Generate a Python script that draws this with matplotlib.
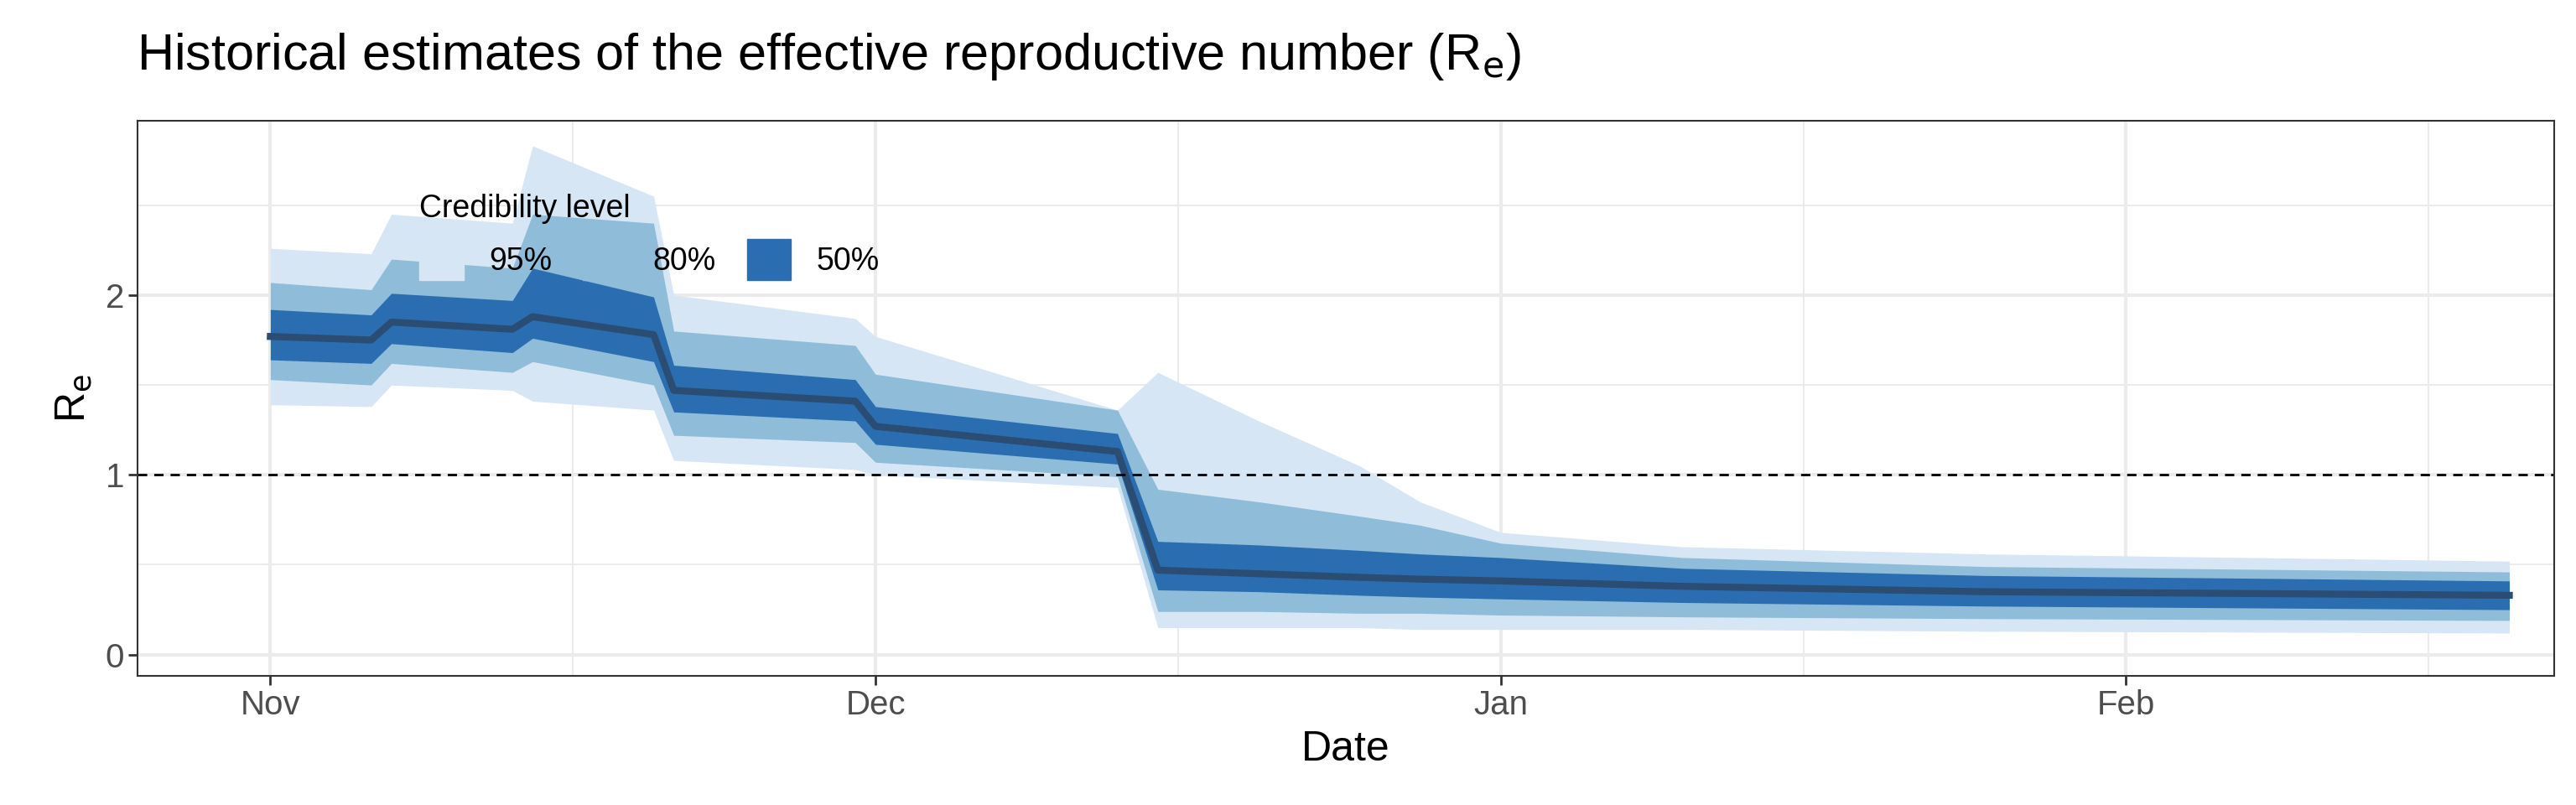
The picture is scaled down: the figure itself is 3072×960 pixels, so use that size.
import matplotlib
matplotlib.use("Agg")
import matplotlib.pyplot as plt
import matplotlib.dates as mdates
from matplotlib.patches import Patch
import datetime as dt

plt.rcParams['font.family'] = ['Liberation Sans', 'DejaVu Sans']

dates = ["2020-11-01","2020-11-06","2020-11-07","2020-11-13","2020-11-14","2020-11-20",
         "2020-11-21","2020-11-30","2020-12-01","2020-12-13","2020-12-15","2020-12-20",
         "2020-12-25","2020-12-28","2021-01-01","2021-01-10","2021-01-25","2021-02-20"]
median = [1.77,1.75,1.85,1.81,1.88,1.78,1.47,1.41,1.27,1.13,0.47,0.45,0.43,0.42,0.41,0.38,0.35,0.33]
lo50 = [1.64,1.62,1.73,1.68,1.76,1.63,1.35,1.30,1.17,1.06,0.36,0.35,0.33,0.32,0.31,0.29,0.27,0.25]
hi50 = [1.92,1.89,2.01,1.97,2.15,1.99,1.61,1.53,1.38,1.23,0.63,0.61,0.58,0.56,0.54,0.48,0.44,0.41]
lo80 = [1.53,1.50,1.62,1.57,1.63,1.50,1.22,1.18,1.07,0.99,0.24,0.24,0.23,0.23,0.22,0.21,0.20,0.19]
hi80 = [2.07,2.03,2.20,2.15,2.45,2.40,1.80,1.72,1.56,1.36,0.92,0.85,0.77,0.72,0.62,0.54,0.49,0.46]
lo95 = [1.39,1.38,1.50,1.47,1.41,1.36,1.08,1.03,1.00,0.93,0.15,0.15,0.15,0.14,0.14,0.14,0.13,0.12]
hi95 = [2.26,2.23,2.45,2.40,2.83,2.55,2.00,1.87,1.77,1.36,1.57,1.30,1.05,0.85,0.68,0.60,0.56,0.52]

x = [dt.datetime.strptime(d, "%Y-%m-%d") for d in dates]

c95, c80, c50, cmed = "#D6E6F4", "#8FBDD9", "#2A6EB1", "#2B4D73"

fig = plt.figure(figsize=(30.72, 9.6), dpi=100)
ax = fig.add_axes([0.0534, 0.16, 0.938, 0.69])
ax.fill_between(x, lo95, hi95, color=c95, lw=0)
ax.fill_between(x, lo80, hi80, color=c80, lw=0)
ax.fill_between(x, lo50, hi50, color=c50, lw=0)
ax.plot(x, median, color=cmed, lw=6)
ax.axhline(1, color="black", ls=(0, (4, 3)), lw=2)

ax.set_xlim(dt.datetime(2020, 10, 25, 10), dt.datetime(2021, 2, 22, 5))
ax.set_ylim(-0.12, 2.97)
ax.set_yticks([0, 1, 2])
ax.set_yticks([0.5, 1.5, 2.5], minor=True)
ax.xaxis.set_major_locator(mdates.MonthLocator())
ax.xaxis.set_major_formatter(mdates.DateFormatter("%b"))
ax.xaxis.set_minor_locator(mdates.DayLocator(bymonthday=16))
ax.grid(which="major", color="#EBEBEB", lw=3, zorder=0)
ax.grid(which="minor", color="#EBEBEB", lw=1.5, zorder=0)
ax.set_axisbelow(True)
ax.tick_params(which="major", labelsize=29, length=8, width=2, color="#333333", labelcolor="#4D4D4D")
ax.tick_params(which="minor", length=0)
for s in ax.spines.values():
    s.set_linewidth(1.5)
    s.set_color("#333333")
ax.set_xlabel("Date", fontsize=36, labelpad=8)
ax.set_ylabel("R$_\\mathrm{e}$", fontsize=36, labelpad=10)
fig.text(0.053, 0.93, "Historical estimates of the effective reproductive number (R$_\\mathrm{e}$)",
         fontsize=44, ha="left", va="center")

handles = [Patch(color=c95), Patch(color=c80), Patch(color=c50)]
leg = ax.legend(handles, ["95%", "80%", "50%"], title="Credibility level", ncol=3,
                loc="upper left", bbox_to_anchor=(0.105, 0.92), frameon=False,
                fontsize=27, title_fontsize=27, handlelength=1.4, handleheight=1.6,
                columnspacing=1.0, handletextpad=0.8)
leg._legend_box.align = "left"
fig.savefig("out.png", dpi=100)
